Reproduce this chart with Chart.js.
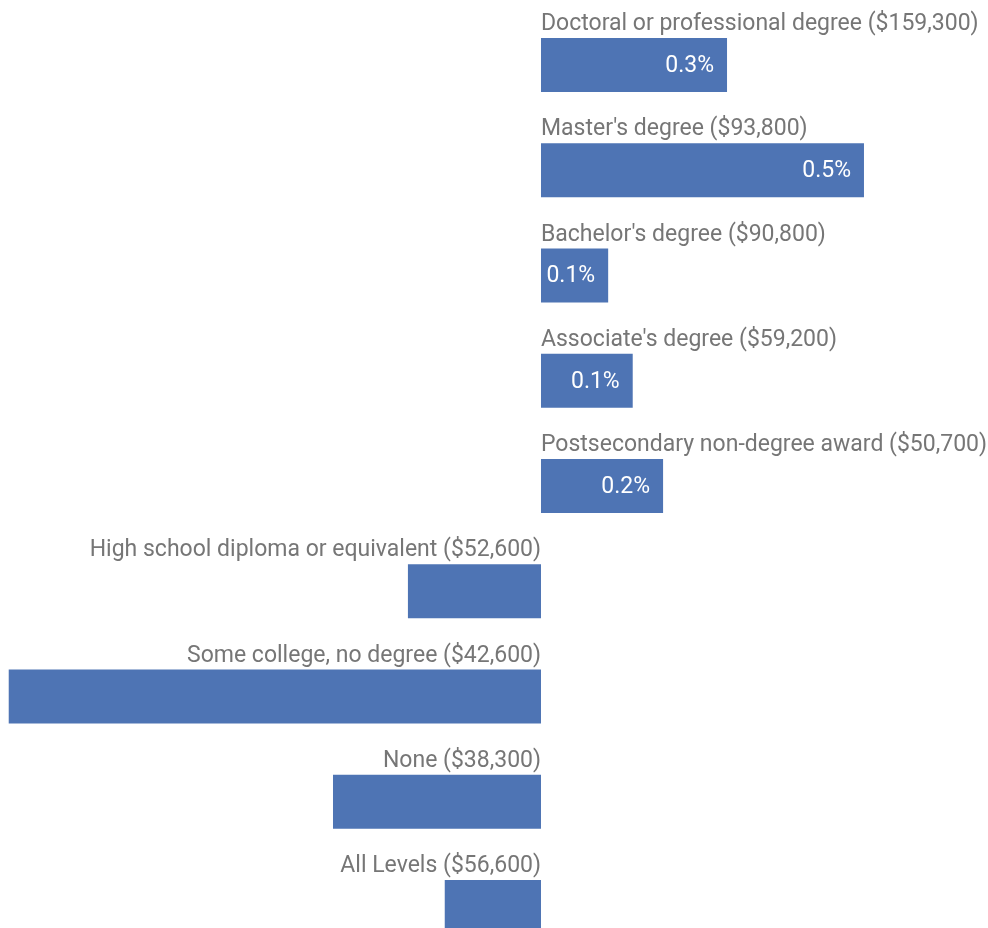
<!DOCTYPE html>
<html>
<head>
<meta charset="utf-8">
<script src="https://cdn.jsdelivr.net/npm/chart.js@4/dist/chart.umd.min.js"></script>
<style>
  html, body { margin: 0; padding: 0; background: #fff; overflow: hidden; }
  #wrap { width: 988px; height: 928px; position: relative; }
</style>
</head>
<body>
<div id="wrap"><canvas id="chart"></canvas></div>
<script>
// education levels, median wage and percent change in employment
const levels = [
  "Doctoral or professional degree",
  "Master's degree",
  "Bachelor's degree",
  "Associate's degree",
  "Postsecondary non-degree award",
  "High school diploma or equivalent",
  "Some college, no degree",
  "None",
  "All Levels"
];
const wages = ["$159,300", "$93,800", "$90,800", "$59,200", "$50,700", "$52,600", "$42,600", "$38,300", "$56,600"];
const changes = [0.288, 0.5, 0.104, 0.142, 0.189, -0.206, -0.824, -0.322, -0.149];

const BAR_COLOR = '#4e74b4';
const LABEL_COLOR = '#767676';
const FONT = 'Roboto, "Open Sans", sans-serif';

// draws category name above each bar and the value inside positive bars
const barLabels = {
  id: 'barLabels',
  afterDatasetsDraw(chart) {
    const ctx = chart.ctx;
    const meta = chart.getDatasetMeta(0);
    const zero = chart.scales.x.getPixelForValue(0);
    ctx.save();
    meta.data.forEach((bar, i) => {
      const v = changes[i];
      const top = bar.y - bar.height / 2;
      ctx.font = '23px ' + FONT;
      ctx.fillStyle = LABEL_COLOR;
      ctx.textBaseline = 'alphabetic';
      ctx.textAlign = v >= 0 ? 'left' : 'right';
      ctx.fillText(levels[i] + ' (' + wages[i] + ')', zero, top - 8);
      if (v > 0) {
        ctx.fillStyle = '#ffffff';
        ctx.textAlign = 'right';
        ctx.textBaseline = 'middle';
        ctx.fillText(v.toFixed(1) + '%', bar.x - 13, bar.y + 1);
      }
    });
    ctx.restore();
  }
};

new Chart(document.getElementById('chart'), {
  type: 'bar',
  data: {
    labels: levels,
    datasets: [{
      data: changes,
      backgroundColor: BAR_COLOR,
      borderWidth: 0,
      categoryPercentage: 1,
      barPercentage: 0.513,
      clip: false
    }]
  },
  options: {
    indexAxis: 'y',
    responsive: true,
    maintainAspectRatio: false,
    animation: false,
    layout: { padding: { top: 65, bottom: 21, left: 0, right: 0 } },
    plugins: { legend: { display: false }, tooltip: { enabled: false } },
    scales: {
      x: { display: false, min: -0.8375, max: 0.692 },
      y: { display: false, offset: false }
    }
  },
  plugins: [barLabels]
});
</script>
</body>
</html>
